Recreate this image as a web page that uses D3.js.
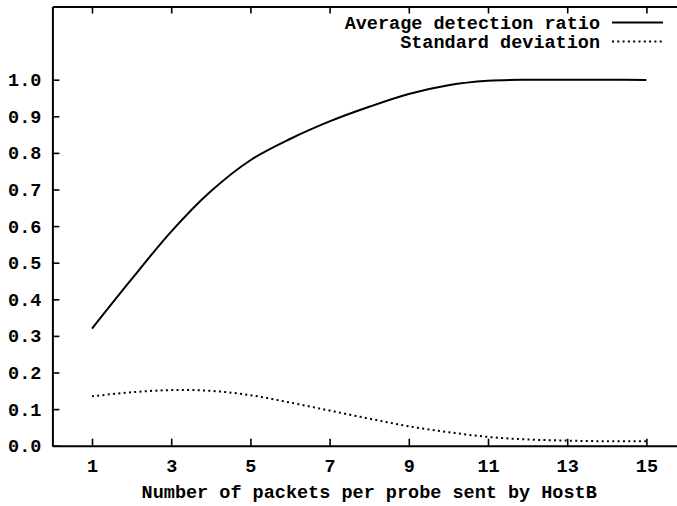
<!DOCTYPE html>
<html>
<head>
<meta charset="utf-8">
<script src="https://cdn.jsdelivr.net/npm/d3@7"></script>
<style>
  body { margin: 0; background: #fff; }
  svg text { font-family: "Liberation Mono", "Courier New", monospace; font-weight: bold; font-size: 18.5px; fill: #000; }
</style>
</head>
<body>
<svg id="chart" width="677" height="506"></svg>
<script>
// packets per probe
let packets = [1, 2, 3, 4, 5, 6, 7, 8, 9, 10, 11, 12, 13, 14, 15];
let avgRatio = [0.32, 0.455, 0.585, 0.695, 0.78, 0.838, 0.886, 0.926, 0.961, 0.985, 0.997, 1.0, 1.0, 1.0, 0.999];
let stdDev = [0.135, 0.146, 0.152, 0.15, 0.138, 0.118, 0.096, 0.074, 0.053, 0.037, 0.024, 0.017, 0.014, 0.012, 0.012];
let xTicks = [1, 3, 5, 7, 9, 11, 13, 15];
let yTicks = [0, 0.1, 0.2, 0.3, 0.4, 0.5, 0.6, 0.7, 0.8, 0.9, 1.0];
let seriesNames = ["Average detection ratio", "Standard deviation"];

const svg = d3.select("svg#chart");
const mLeft = 52.4, mTop = 6.5;
const w = 633.6, h = 439.2;

const x = d3.scaleLinear().domain([0, 16]).range([mLeft, mLeft + w]);
const y = d3.scaleLinear().domain([0, 1.2]).range([mTop + h, mTop]);

function styleAxis(g) {
  g.select(".domain").attr("stroke", "#000").attr("stroke-width", 2);
  g.selectAll(".tick line").attr("stroke", "#000").attr("stroke-width", 1.6);
  g.selectAll(".tick text").attr("fill", "#000");
  g.attr("font-family", null).attr("font-size", null);
}

// bottom
svg.append("g")
  .attr("transform", "translate(0," + (mTop + h) + ")")
  .call(d3.axisBottom(x).tickValues(xTicks).tickSizeInner(-7).tickSizeOuter(0).tickPadding(13).tickFormat(d3.format("d")))
  .call(styleAxis);
// top
svg.append("g")
  .attr("transform", "translate(0," + mTop + ")")
  .call(d3.axisTop(x).tickValues(xTicks).tickSizeInner(-7).tickSizeOuter(0).tickFormat(""))
  .call(styleAxis);
// left
svg.append("g")
  .attr("transform", "translate(" + mLeft + ",0)")
  .call(d3.axisLeft(y).tickValues(yTicks).tickSizeInner(-7).tickSizeOuter(0).tickPadding(11).tickFormat(d3.format(".1f")))
  .call(styleAxis);
// right (falls just outside the picture)
svg.append("g")
  .attr("transform", "translate(" + (mLeft + w) + ",0)")
  .call(d3.axisRight(y).tickValues(yTicks).tickSizeInner(-7).tickSizeOuter(0).tickFormat(""))
  .call(styleAxis);

const line = d3.line()
  .x((d, i) => x(packets[i]))
  .y(d => y(d))
  .curve(d3.curveCatmullRom.alpha(0.5));

svg.append("path")
  .datum(avgRatio)
  .attr("d", line)
  .attr("fill", "none")
  .attr("stroke", "#000")
  .attr("stroke-width", 2);

svg.append("path")
  .datum(stdDev)
  .attr("d", line)
  .attr("fill", "none")
  .attr("stroke", "#000")
  .attr("stroke-width", 2)
  .attr("stroke-dasharray", "2,3.3");

// x label
svg.append("text")
  .attr("x", mLeft + w / 2)
  .attr("y", 498)
  .attr("text-anchor", "middle")
  .text("Number of packets per probe sent by HostB");

// legend
let legendY = [22.5, 41.5];
let dashes = [null, "2,3.3"];
seriesNames.forEach((name, i) => {
  svg.append("text")
    .attr("x", 600)
    .attr("y", legendY[i] + 6)
    .attr("text-anchor", "end")
    .text(name);
  svg.append("line")
    .attr("x1", 612).attr("x2", 663)
    .attr("y1", legendY[i]).attr("y2", legendY[i])
    .attr("stroke", "#000")
    .attr("stroke-width", 2)
    .attr("stroke-dasharray", dashes[i]);
});
</script>
</body>
</html>
